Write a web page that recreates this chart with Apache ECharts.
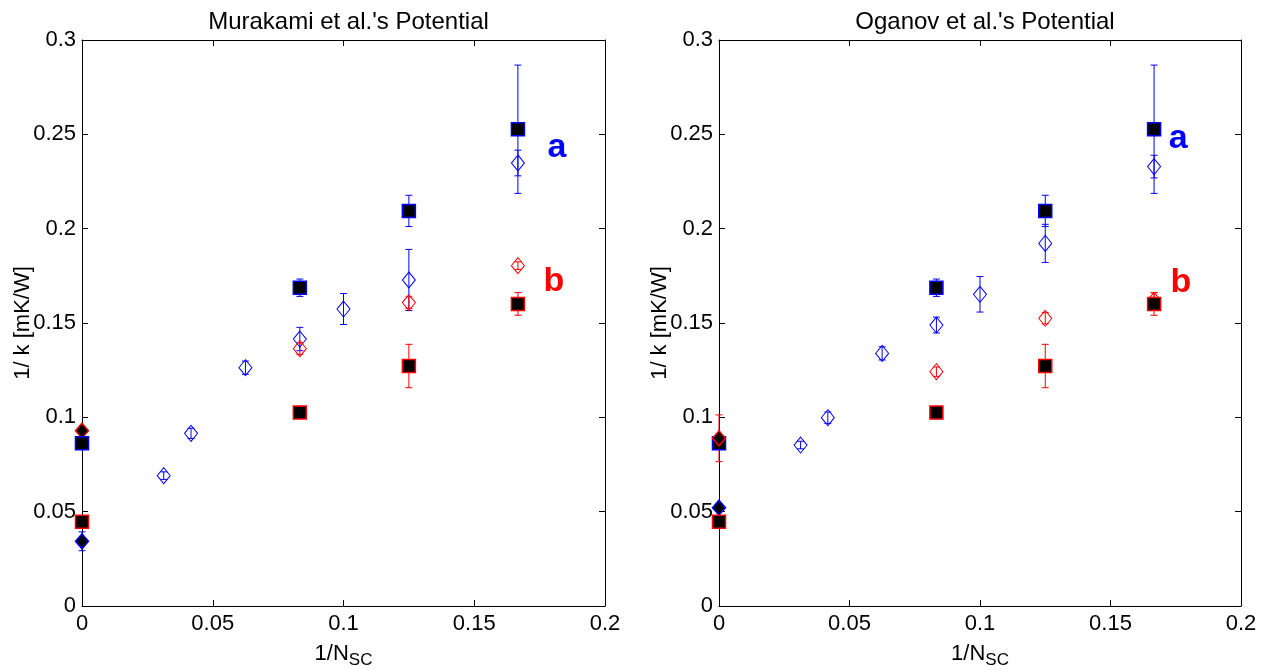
<!DOCTYPE html>
<html>
<head>
<meta charset="utf-8">
<script src="https://cdn.jsdelivr.net/npm/echarts@6/dist/echarts.min.js"></script>
<style>html,body{margin:0;padding:0;background:#fff}#c{width:1273px;height:670px}</style>
</head>
<body>
<div id="c"></div>
<script>
// ---------- data ----------
const panelTitles = ["Murakami et al.'s Potential", "Oganov et al.'s Potential"];
const xTicks = [0, 0.05, 0.1, 0.15, 0.2];
const yTicks = [0, 0.05, 0.1, 0.15, 0.2, 0.25, 0.3];

// filled squares (same in both panels)
const sqX      = [0, 0.0833, 0.125, 0.1667];
const sqBlue   = [0.0862, 0.1687, 0.2094, 0.2527];
const sqBlueErr= [0, 0.0046, 0.0083, 0.034];
const sqRed    = [0.0447, 0.1025, 0.1272, 0.1601];
const sqRedErr = [0, 0, 0.0115, 0.006];

// open diamonds
const diaBlueX = [0.03125, 0.0417, 0.0625, 0.0833, 0.1, 0.125, 0.1667];
const diaRedX  = [0.0833, 0.125, 0.1667];

const murBlueDia    = [0.0691, 0.0915, 0.1263, 0.1415, 0.1574, 0.1728, 0.2348];
const murBlueDiaErr = [0.002, 0.0027, 0.0035, 0.0062, 0.0082, 0.0162, 0.0068];
const murRedDia     = [0.1364, 0.1608, 0.1804];
const murRedDiaErr  = [0.003, 0.003, 0.002];
const murFilledRed  = [0.0929], murFilledRedErr  = [0.002];
const murFilledBlue = [0.0343], murFilledBlueErr = [0.005];

const ogBlueDia    = [0.0853, 0.0998, 0.1339, 0.1489, 0.1652, 0.1922, 0.2329];
const ogBlueDiaErr = [0.002, 0.003, 0.0035, 0.0042, 0.0094, 0.0101, 0.006];
const ogRedDia     = [0.1242, 0.1525, 0.162];
const ogRedDiaErr  = [0.0025, 0.003, 0.004];
const ogFilledRed  = [0.0889], ogFilledRedErr  = [0.0124];
const ogFilledBlue = [0.0521], ogFilledBlueErr = [0.002];

const filledX = [0];

// annotation labels [x, y]
const murLabelA = [0.1816, 0.2428], murLabelB = [0.1805, 0.1717];
const ogLabelA  = [0.1759, 0.2475], ogLabelB  = [0.177, 0.1712];

// ---------- styling ----------
const FONT = "'Liberation Sans', Arial, Helvetica, sans-serif";
const BLUE = '#0000ff', RED = '#ff0000';
const grids = [
  {left: 82, top: 40, width: 523, height: 566, outerBoundsMode: 'none', containLabel: false},
  {left: 719, top: 40, width: 522, height: 566, outerBoundsMode: 'none', containLabel: false}
];

function xAxesFor(gi) {
  const base = {
    type: 'value', gridIndex: gi, min: 0, max: 0.2, interval: 0.05,
    splitLine: {show: false},
    axisLine: {show: true, onZero: false, lineStyle: {color: '#000', width: 1}},
    axisTick: {show: true, inside: true, length: 6, lineStyle: {color: '#000'}}
  };
  return [
    Object.assign({}, base, {
      position: 'bottom',
      axisLabel: {show: true, color: '#000', fontSize: 22, fontFamily: FONT, margin: 7},
      name: '1/N{s|SC}', nameLocation: 'middle', nameGap: 32, nameMoveOverlap: false,
      nameTextStyle: {color: '#000', fontSize: 22, fontFamily: FONT,
        rich: {s: {fontSize: 17, fontFamily: FONT, color: '#000', verticalAlign: 'bottom', padding: [14, 0, 0, 0]}}}
    }),
    Object.assign({}, base, {position: 'top', axisLabel: {show: false}})
  ];
}
function yAxesFor(gi) {
  const base = {
    type: 'value', gridIndex: gi, min: 0, max: 0.3, interval: 0.05,
    splitLine: {show: false},
    axisLine: {show: true, onZero: false, lineStyle: {color: '#000', width: 1}},
    axisTick: {show: true, inside: true, length: 6, lineStyle: {color: '#000'}}
  };
  return [
    Object.assign({}, base, {
      position: 'left',
      axisLabel: {show: true, color: '#000', fontSize: 22, fontFamily: FONT, margin: 6},
      name: '1/ k [mK/W]', nameLocation: 'middle', nameGap: 48, nameMoveOverlap: false,
      nameTextStyle: {color: '#000', fontSize: 22, fontFamily: FONT}
    }),
    Object.assign({}, base, {position: 'right', axisLabel: {show: false}})
  ];
}

function errSeries(xs, ys, errs, color, axi) {
  const data = [];
  xs.forEach((x, i) => { if (errs[i] > 0) data.push([x, ys[i] - errs[i], ys[i] + errs[i]]); });
  return {
    type: 'custom', xAxisIndex: axi, yAxisIndex: axi, silent: true, z: 2,
    encode: {x: 0, y: [1, 2]},
    data: data,
    renderItem: function (params, api) {
      const x = api.value(0);
      const pLo = api.coord([x, api.value(1)]);
      const pHi = api.coord([x, api.value(2)]);
      const hw = 3.5;
      const st = {stroke: color, lineWidth: 1, fill: null};
      return {type: 'group', children: [
        {type: 'line', shape: {x1: pLo[0], y1: pLo[1], x2: pHi[0], y2: pHi[1]}, style: st},
        {type: 'line', shape: {x1: pLo[0] - hw, y1: pLo[1], x2: pLo[0] + hw, y2: pLo[1]}, style: st},
        {type: 'line', shape: {x1: pHi[0] - hw, y1: pHi[1], x2: pHi[0] + hw, y2: pHi[1]}, style: st}
      ]};
    }
  };
}
function markSeries(xs, ys, symbol, size, fill, edge, bw, axi, z) {
  return {
    type: 'scatter', xAxisIndex: axi, yAxisIndex: axi, silent: true, clip: false, z: z || 3,
    symbol: symbol, symbolSize: size,
    itemStyle: {color: fill, borderColor: edge, borderWidth: bw, opacity: 1},
    emphasis: {disabled: true},
    data: xs.map((x, i) => [x, ys[i]])
  };
}
function labelSeries(pt, text, color, axi) {
  return {
    type: 'scatter', xAxisIndex: axi, yAxisIndex: axi, silent: true, clip: false, z: 5,
    symbolSize: 0,
    itemStyle: {opacity: 1, color: color},
    emphasis: {disabled: true},
    label: {show: true, position: 'inside', formatter: text, color: color, opacity: 1,
      fontSize: 34, fontWeight: 'bold', fontFamily: FONT},
    data: [pt]
  };
}

function panelSeries(axi, p) {
  const s = [];
  s.push(errSeries(sqX, sqBlue, sqBlueErr, BLUE, axi));
  s.push(errSeries(sqX, sqRed, sqRedErr, RED, axi));
  s.push(errSeries(diaBlueX, p.blueDia, p.blueDiaErr, BLUE, axi));
  s.push(errSeries(diaRedX, p.redDia, p.redDiaErr, RED, axi));
  s.push(errSeries(filledX, p.fRed, p.fRedErr, RED, axi));
  s.push(errSeries(filledX, p.fBlue, p.fBlueErr, BLUE, axi));
  s.push(markSeries(diaBlueX, p.blueDia, 'diamond', [13, 16], 'rgba(0,0,0,0)', BLUE, 1, axi, 3));
  s.push(markSeries(diaRedX, p.redDia, 'diamond', [13, 16], 'rgba(0,0,0,0)', RED, 1, axi, 3));
  s.push(markSeries(filledX, p.fBlue, 'diamond', [13, 15], '#000', BLUE, 1.5, axi, 3));
  if (p.redOnTop) {
    s.push(markSeries(sqX, sqBlue, 'rect', 13, '#000', BLUE, 1.5, axi, 4));
    s.push(markSeries(sqX, sqRed, 'rect', 13, '#000', RED, 1.5, axi, 4));
    s.push(markSeries(filledX, p.fRed, 'diamond', [13, 15], '#000', RED, 1.5, axi, 4));
  } else {
    s.push(markSeries(filledX, p.fRed, 'diamond', [13, 15], '#000', RED, 1.5, axi, 3));
    s.push(markSeries(sqX, sqBlue, 'rect', 13, '#000', BLUE, 1.5, axi, 4));
    s.push(markSeries(sqX, sqRed, 'rect', 13, '#000', RED, 1.5, axi, 4));
  }
  s.push(labelSeries(p.labA, 'a', BLUE, axi));
  s.push(labelSeries(p.labB, 'b', RED, axi));
  return s;
}

const chart = echarts.init(document.getElementById('c'), null, {renderer: 'canvas'});
const xAxes = [].concat(xAxesFor(0), xAxesFor(1));
const yAxes = [].concat(yAxesFor(0), yAxesFor(1));
// axis index mapping: panel 0 -> bottom/left axes index 0, panel 1 -> index 2
const series = [].concat(
  panelSeries(0, {blueDia: murBlueDia, blueDiaErr: murBlueDiaErr, redDia: murRedDia, redDiaErr: murRedDiaErr,
    fRed: murFilledRed, fRedErr: murFilledRedErr, fBlue: murFilledBlue, fBlueErr: murFilledBlueErr,
    labA: murLabelA, labB: murLabelB, redOnTop: false}),
  panelSeries(2, {blueDia: ogBlueDia, blueDiaErr: ogBlueDiaErr, redDia: ogRedDia, redDiaErr: ogRedDiaErr,
    fRed: ogFilledRed, fRedErr: ogFilledRedErr, fBlue: ogFilledBlue, fBlueErr: ogFilledBlueErr,
    labA: ogLabelA, labB: ogLabelB, redOnTop: true})
);

chart.setOption({
  animation: false,
  backgroundColor: '#fff',
  title: panelTitles.map((t, i) => ({
    text: t, left: grids[i].left + grids[i].width / 2, top: 5, textAlign: 'center',
    textStyle: {color: '#000', fontSize: 24, fontWeight: 'normal', fontFamily: FONT}
  })),
  grid: grids,
  xAxis: xAxes,
  yAxis: yAxes,
  series: series
});
</script>
</body>
</html>
